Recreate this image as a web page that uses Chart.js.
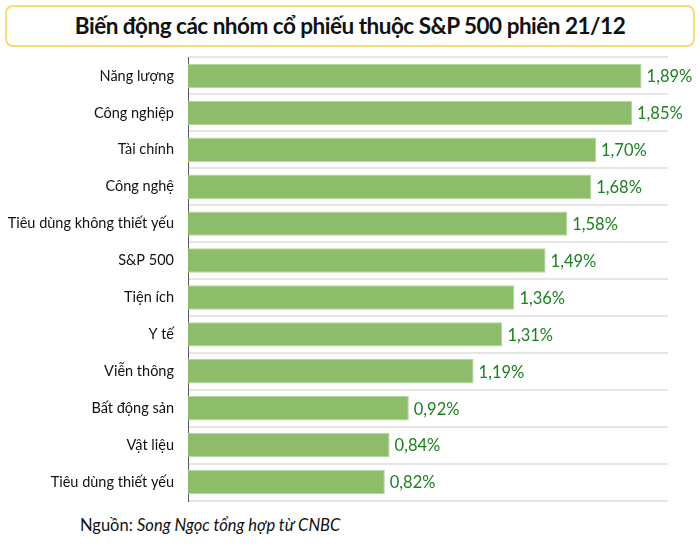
<!DOCTYPE html>
<html><head><meta charset="utf-8">
<script src="https://cdn.jsdelivr.net/npm/chart.js@4"></script>
<style>
html,body{margin:0;padding:0;background:#fff;width:700px;height:546px;overflow:hidden;font-family:Lato,"Noto Sans",sans-serif;}
#title{position:absolute;left:5px;top:5px;width:686px;height:38px;border:2px solid #f7dc74;border-radius:8px;text-align:center;line-height:38px;font-size:22.5px;font-weight:bold;color:#111;letter-spacing:-0.5px;}
#c{position:absolute;left:0;top:50px;}
#src{position:absolute;left:80px;top:515px;font-size:16.5px;color:#111;}
</style></head><body>
<div id="title">Biến động các nhóm cổ phiếu thuộc S&amp;P 500 phiên 21/12</div>
<canvas id="c" width="700" height="460"></canvas>
<div id="src">Nguồn: <i>Song Ngọc tổng hợp từ CNBC</i></div>
<script>
const categories = ["Năng lượng","Công nghiệp","Tài chính","Công nghệ","Tiêu dùng không thiết yếu","S&P 500","Tiện ích","Y tế","Viễn thông","Bất động sản","Vật liệu","Tiêu dùng thiết yếu"];
const values = [1.89,1.85,1.70,1.68,1.58,1.49,1.36,1.31,1.19,0.92,0.84,0.82];
const valueLabels = ["1,89%","1,85%","1,70%","1,68%","1,58%","1,49%","1,36%","1,31%","1,19%","0,92%","0,84%","0,82%"];

const labelPlugin = {
  id:'vlabels',
  afterDatasetsDraw(chart){
    const ctx = chart.ctx;
    const meta = chart.getDatasetMeta(0);
    ctx.save();
    ctx.font = '16.5px Lato, "Noto Sans", sans-serif';
    ctx.fillStyle = '#1c8120';
    ctx.textBaseline = 'middle';
    ctx.textAlign = 'left';
    meta.data.forEach((bar,i)=>{
      ctx.fillText(valueLabels[i], bar.x + 5, bar.y + 1);
    });
    ctx.restore();
  }
};

new Chart(document.getElementById('c'), {
  type:'bar',
  data:{labels:categories, datasets:[{data:values, backgroundColor:'#8dbd6a', borderColor:'#b3d59b', borderWidth:1, barPercentage:0.66, categoryPercentage:1.0}]},
  options:{
    indexAxis:'y', responsive:false, maintainAspectRatio:false, animation:false,
    layout:{padding:{top:7.5,bottom:9.5,right:32,left:0}},
    plugins:{legend:{display:false}, tooltip:{enabled:false}},
    scales:{
      x:{display:false, min:0, max:2},
      y:{
        afterFit(s){ s.width = 188; s.paddingTop = 0; s.paddingBottom = 0; },
        grid:{display:true, offset:true, color:'#e6e6e6', lineWidth:2, drawTicks:false},
        border:{display:true, color:'#5a5a5a', width:1},
        ticks:{color:'#111', font:{family:'Lato, "Noto Sans", sans-serif', size:14.5}, padding:14}
      }
    }
  },
  plugins:[labelPlugin]
});
</script>
</body></html>
